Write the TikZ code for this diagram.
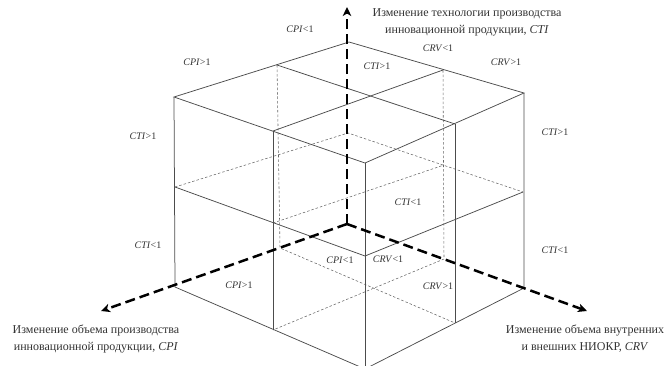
\documentclass[tikz,border=0pt]{standalone}
\usepackage{fontspec}
\setmainfont{Liberation Serif}
\usetikzlibrary{arrows.meta}

\begin{document}
\begin{tikzpicture}[x=1pt,y=-1pt,
    edge/.style={draw=black!70, line width=0.75pt},
    hidden/.style={draw=black!60, line width=0.55pt, dash pattern=on 2.5pt off 2pt},
    axis/.style={line width=2.5pt, dash pattern=on 10pt off 5pt, -{Stealth[length=9pt,width=8.5pt,inset=2.5pt]}},
    lbl/.style={font=\fontsize{10}{11}\selectfont, text=black!80, inner sep=0pt},
    ttl/.style={font=\fontsize{12}{17}\selectfont, text=black!80, align=center, inner sep=0pt}]
    \useasboundingbox (0,0) rectangle (666,365);
    \clip (0,0) rectangle (666,365);

    \coordinate (tb) at (349,42);
    \coordinate (tl) at (174,97);
    \coordinate (tr) at (524,93);
    \coordinate (tf) at (365,163);
    \coordinate (tbl) at (277,65);
    \coordinate (tbr) at (443,70);
    \coordinate (tfl) at (273,131);
    \coordinate (tfr) at (455,124);

    \coordinate (ml) at (175,187);
    \coordinate (mb) at (348,133);
    \coordinate (mr) at (523,192);
    \coordinate (mf) at (365,256);
    \coordinate (mfl) at (273,223);
    \coordinate (mbr) at (444,165);

    \coordinate (bl) at (175,287);
    \coordinate (br) at (524,288);
    \coordinate (bf) at (365,369);
    \coordinate (bfl) at (273,330);
    \coordinate (bfr) at (455,323);
    \coordinate (bbl) at (280,248);
    \coordinate (bbr) at (444,259);

    \coordinate (origin) at (347,224);
    \coordinate (ctiEnd) at (347,7);
    \coordinate (cpiEnd) at (101,311);
    \coordinate (crvEnd) at (587,311);

    \draw[hidden] (tbl) -- (bbl) -- (bfr);
    \draw[hidden] (tbr) -- (bbr) -- (bfl);
    \draw[hidden] (ml) -- (mb) -- (mr);
    \draw[hidden] (mfl) -- (mbr);

    \draw[edge] (tl) -- (tb) -- (tr) -- (tf) -- cycle;
    \draw[edge] (tbl) -- (tfr);
    \draw[edge] (tbr) -- (tfl);
    \draw[edge] (tl) -- (bl) -- (bf) -- (br) -- (tr);
    \draw[edge] (tf) -- (bf);
    \draw[edge] (tfl) -- (bfl);
    \draw[edge] (tfr) -- (bfr);
    \draw[edge] (ml) -- (mf) -- (mr);

    \draw[axis] (origin) -- (ctiEnd);
    \draw[axis] (origin) -- (cpiEnd);
    \draw[axis] (origin) -- (crvEnd);

    \node[lbl] (cpiLtTop) at (300,29) {\textit{CPI}<1};
    \node[lbl] (cpiGtTop) at (197,62) {\textit{CPI}>1};
    \node[lbl] (crvLtTop) at (438,48) {\textit{CRV}<1};
    \node[lbl] (crvGtTop) at (506,62) {\textit{CRV}>1};
    \node[lbl] (ctiGtTop) at (377,66) {\textit{CTI}>1};
    \node[lbl] (ctiGtLeft) at (143,136) {\textit{CTI}>1};
    \node[lbl] (ctiLtLeft) at (148,245) {\textit{CTI}<1};
    \node[lbl] (ctiGtRight) at (555,132) {\textit{CTI}>1};
    \node[lbl] (ctiLtRight) at (555,250) {\textit{CTI}<1};
    \node[lbl] (ctiLtMid) at (408,202) {\textit{CTI}<1};
    \node[lbl] (cpiLtMid) at (340,260) {\textit{CPI}<1};
    \node[lbl] (crvLtMid) at (388,259) {\textit{CRV}<1};
    \node[lbl] (cpiGtBot) at (239,285) {\textit{CPI}>1};
    \node[lbl] (crvGtBot) at (438,286) {\textit{CRV}>1};

    \node[ttl] (ctiTitle) at (467,22) {Изменение технологии производства\\инновационной продукции, \textit{CTI}};
    \node[ttl] (cpiTitle) at (96,339) {Изменение объема производства\\инновационной продукции, \textit{CPI}};
    \node[ttl] (crvTitle) at (585,339) {Изменение объема внутренних\\и внешних НИОКР, \textit{CRV}};
\end{tikzpicture}
\end{document}
